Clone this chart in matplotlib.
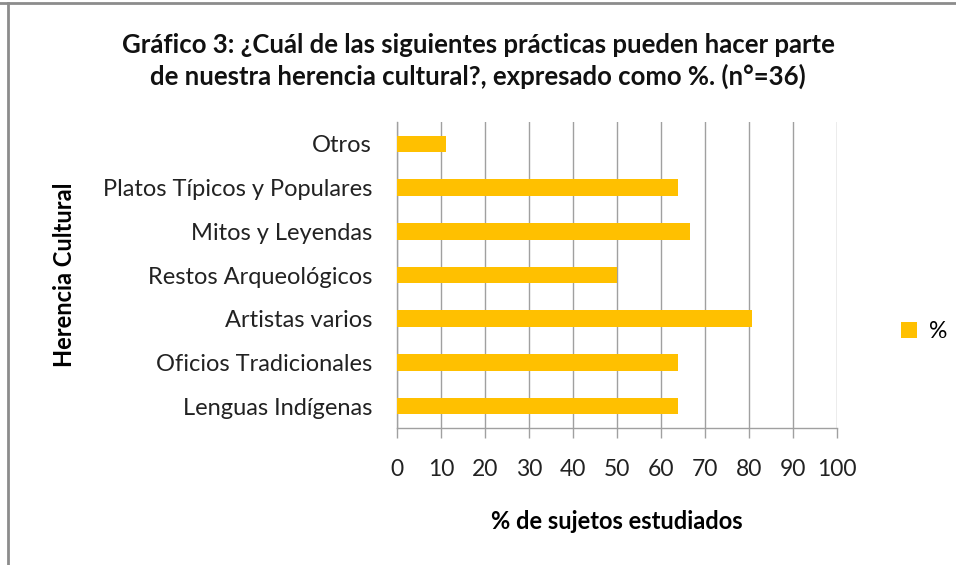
import matplotlib
matplotlib.use("Agg")
import matplotlib.pyplot as plt
from matplotlib.patches import Patch
from matplotlib.lines import Line2D

categories = ["Lenguas Indígenas", "Oficios Tradicionales", "Artistas varios",
              "Restos Arqueológicos", "Mitos y Leyendas",
              "Platos Típicos y Populares", "Otros"]
values = [63.9, 63.9, 80.6, 50.0, 66.7, 63.9, 11.1]
xticks = [0, 10, 20, 30, 40, 50, 60, 70, 80, 90, 100]
series_name = "%"

plt.rcParams['font.family'] = ['Lato', 'DejaVu Sans']

fig = plt.figure(figsize=(9.56, 5.65), dpi=100)
ax = fig.add_axes([0.4153, 0.2425, 0.4602, 0.5415])

ypos = list(range(len(categories)))
ax.barh(ypos, values, height=0.38, color="#FFC000", zorder=3, label=series_name)
ax.set_xlim(0, 100)
ax.set_ylim(-0.5, len(categories) - 0.5)
ax.set_xticks(xticks)
ax.set_xticklabels([str(t) for t in xticks], fontsize=16.5, color="#222222")
ax.set_yticks(ypos)
ax.set_yticklabels(categories, fontsize=17, color="#222222")
ax.tick_params(axis='x', direction='out', length=7, width=1, color="#a0a0a0", pad=15)
ax.tick_params(axis='y', length=0, pad=18)
ax.grid(axis='x', color="#a0a0a0", linewidth=1, zorder=0)
for s in ["top", "right"]:
    ax.spines[s].set_visible(False)
for s in ["left", "bottom"]:
    ax.spines[s].set_color("#a0a0a0")
    ax.spines[s].set_linewidth(1)

ax.set_xlabel("% de sujetos estudiados", fontsize=17, fontweight="bold")
ax.xaxis.set_label_coords(0.5, -0.268)
ax.set_ylabel("Herencia Cultural", fontsize=17, fontweight="bold")
ax.yaxis.set_label_coords(-0.73, 0.5)

fig.text(0.5, 0.892, "Gráfico 3: ¿Cuál de las siguientes prácticas pueden hacer parte\n"
         "de nuestra herencia cultural?, expresado como %. (n°=36)",
         ha="center", va="center", fontsize=18.5, fontweight="bold",
         linespacing=1.3, color="#111111")

handles = [Patch(facecolor="#FFC000", edgecolor="none")]
fig.legend(handles, [series_name], loc="center left", bbox_to_anchor=(0.933, 0.413),
           frameon=False, fontsize=16.5, handlelength=0.7, handleheight=0.7,
           handletextpad=0.5, borderaxespad=0)

# outer chart frame (top and left visible)
fig.add_artist(Line2D([0, 1], [0.995, 0.995], color="#8c8c8c", linewidth=2,
                      transform=fig.transFigure))
fig.add_artist(Line2D([0.0085, 0.0085], [0, 0.995], color="#8c8c8c", linewidth=2,
                      transform=fig.transFigure))

fig.savefig("out.png", dpi=100)
